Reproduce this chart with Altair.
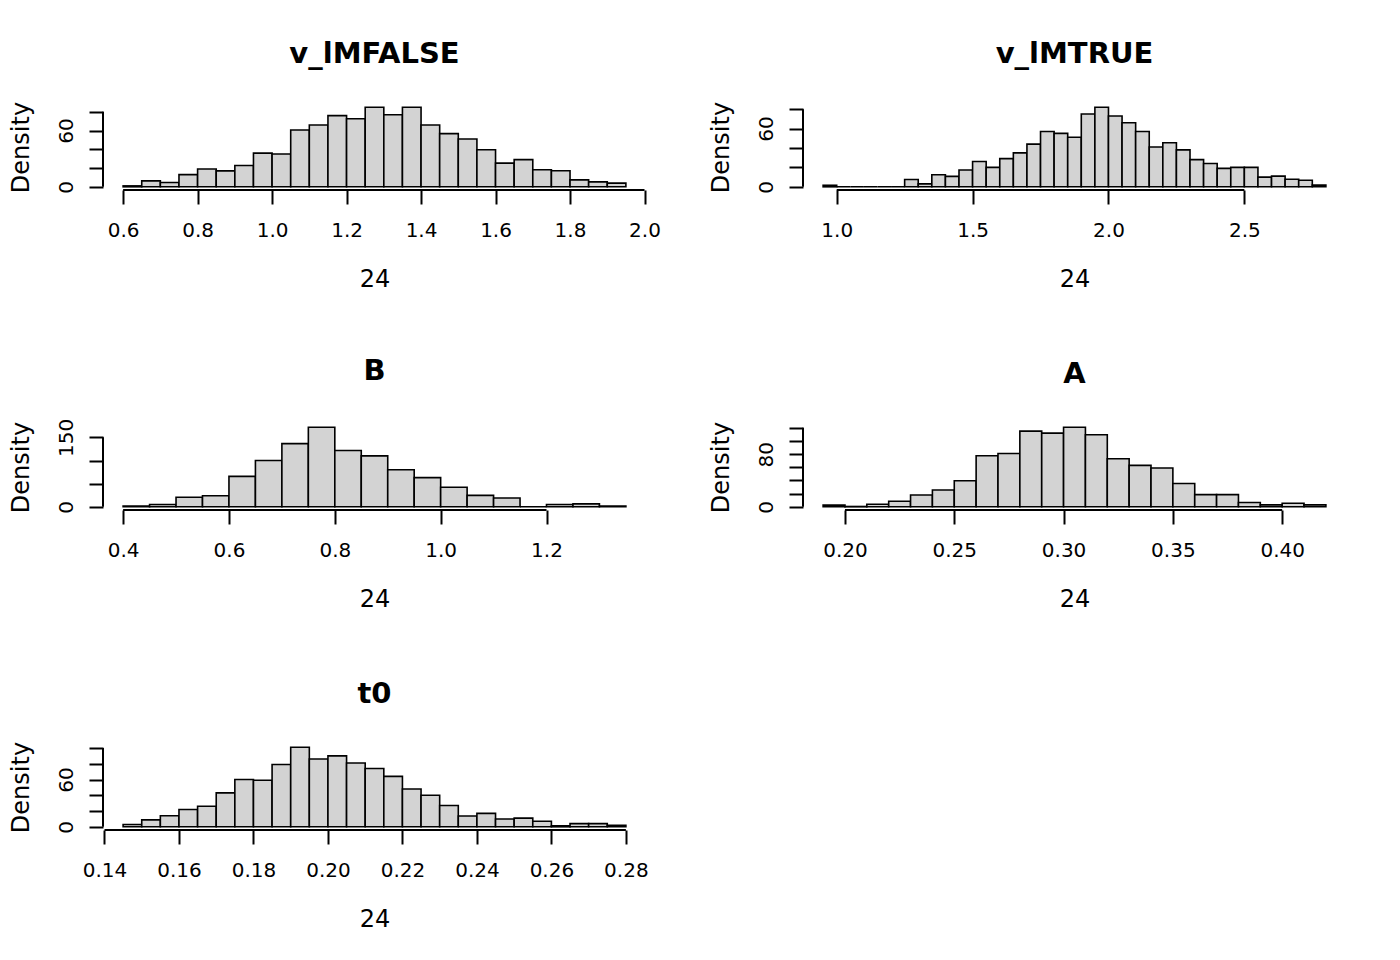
import altair as alt
import pandas as pd

FONT = "DejaVu Sans"
W, H = 543, 86  # plot region of one panel

# v_lMFALSE
vf_start, vf_width = 0.60, 0.05
vf_density = [1, 6.3, 4.6, 13, 19, 17, 22.8, 36, 35, 60.7, 66, 76, 72.6, 85,
              77, 85, 66, 56.8, 51, 39.6, 25.3, 29, 18.2, 17.2, 7.4, 5.3, 3.9]
vf_xticks = [0.6, 0.8, 1.0, 1.2, 1.4, 1.6, 1.8, 2.0]
vf_yticks = [0, 20, 40, 60, 80]
vf_ylabels = [0, 60]

# v_lMTRUE
vt_start, vt_width = 0.95, 0.05
vt_density = [1.6, 0, 0, 0, 0, 0, 7.5, 3, 12.5, 10.8, 17.3, 26, 20, 29, 35, 44,
              57, 55, 51, 75, 82, 73, 66, 57, 41, 45.4, 38, 28, 24, 19, 20, 20,
              10, 11, 7.8, 6.8, 1.7]
vt_xticks = [1.0, 1.5, 2.0, 2.5]
vt_yticks = [0, 20, 40, 60, 80]
vt_ylabels = [0, 60]

# B
b_start, b_width = 0.40, 0.05
b_density = [1.4, 5, 20.5, 24, 65.8, 100, 136.5, 172, 121.6, 110, 80, 63,
             42.4, 24.8, 19, 0, 5, 6.4, 1.4]
b_xticks = [0.4, 0.6, 0.8, 1.0, 1.2]
b_yticks = [0, 50, 100, 150]
b_ylabels = [0, 150]

# A
a_start, a_width = 0.19, 0.01
a_density = [2.5, 0.5, 4, 8.5, 18, 25.5, 39.5, 77.5, 81, 115, 112, 121, 109.5,
             73, 63, 59, 35.5, 18.5, 18.5, 6.5, 3, 5.5, 3]
a_xticks = [0.20, 0.25, 0.30, 0.35, 0.40]
a_yticks = [0, 20, 40, 60, 80, 100, 120]
a_ylabels = [0, 80]

# t0
t_start, t_width = 0.145, 0.005
t_density = [2.9, 8.8, 14, 22, 26, 43, 60, 59, 79, 101, 86, 90, 81, 74, 64,
             48, 40, 27, 13.8, 17, 10, 11, 7, 1.3, 4, 4, 2]
t_xticks = [0.14, 0.16, 0.18, 0.20, 0.22, 0.24, 0.26, 0.28]
t_yticks = [0, 20, 40, 60, 80, 100]
t_ylabels = [0, 60]


def panel(title, start, width, density, xticks, xfmt, yticks, ylabels):
    n = len(density)
    df = pd.DataFrame({
        "lo": [round(start + i * width, 5) for i in range(n)],
        "hi": [round(start + (i + 1) * width, 5) for i in range(n)],
        "density": density,
        "base": [0] * n,
    })
    x_lo, x_hi = start, start + n * width
    ext = 0.04 * (x_hi - x_lo)
    ymax = max(density)
    xs = alt.Scale(domain=[x_lo - ext, x_hi + ext], nice=False, zero=False)
    ys = alt.Scale(domain=[-0.04 * ymax, 1.04 * ymax], nice=False, zero=False)
    shown = " || ".join(f"datum.value == {v}" for v in ylabels)

    xaxis = alt.Axis(
        values=xticks, format=xfmt, title="24", domain=False, grid=False,
        tickSize=14, tickWidth=2, tickColor="black",
        labelFont=FONT, labelFontSize=20, labelColor="black",
        labelBaseline="alphabetic", labelPadding=32, labelFlush=False,
        labelOverlap=False, labelBound=False,
        titleFont=FONT, titleFontSize=24, titleFontWeight="normal",
        titleColor="black", titleX=W / 2, titleY=96,
        titleBaseline="alphabetic", titleAlign="center",
    )
    yaxis = alt.Axis(
        values=yticks, labelExpr=f"({shown}) ? datum.label : ''",
        title="Density", domain=False, grid=False,
        tickSize=14, tickWidth=2, tickColor="black",
        labelFont=FONT, labelFontSize=20, labelColor="black",
        labelAngle=270, labelAlign="center", labelBaseline="alphabetic",
        labelPadding=17, labelFlush=False, labelOverlap=False,
        titleFont=FONT, titleFontSize=24, titleFontWeight="normal",
        titleColor="black", titleAngle=270, titleX=-70, titleY=H / 2,
        titleBaseline="bottom", titleAlign="center",
    )

    bars = alt.Chart(df).mark_rect(
        fill="#d3d3d3", stroke="black", strokeWidth=1.6
    ).encode(
        x=alt.X("lo:Q", scale=xs, axis=xaxis),
        x2="hi:Q",
        y=alt.Y("density:Q", scale=ys, axis=yaxis),
        y2="base:Q",
    )

    xline = alt.Chart(pd.DataFrame({"a": [xticks[0]], "b": [xticks[-1]]})).mark_rule(
        color="black", strokeWidth=2
    ).encode(x=alt.X("a:Q", scale=xs, axis=xaxis), x2="b:Q", y=alt.value(H))

    yline = alt.Chart(pd.DataFrame({"a": [yticks[0]], "b": [yticks[-1]]})).mark_rule(
        color="black", strokeWidth=2
    ).encode(y=alt.Y("a:Q", scale=ys, axis=yaxis), y2="b:Q", x=alt.value(0))

    return alt.layer(bars, xline, yline).properties(
        width=W, height=H,
        title=alt.TitleParams(
            text=title, font=FONT, fontSize=29, fontWeight="bold",
            color="black", anchor="middle", frame="group",
            baseline="alphabetic", offset=9,
        ),
    )


panels = [
    panel("v_lMFALSE", vf_start, vf_width, vf_density, vf_xticks, ".1f", vf_yticks, vf_ylabels),
    panel("v_lMTRUE", vt_start, vt_width, vt_density, vt_xticks, ".1f", vt_yticks, vt_ylabels),
    panel("B", b_start, b_width, b_density, b_xticks, ".1f", b_yticks, b_ylabels),
    panel("A", a_start, a_width, a_density, a_xticks, ".2f", a_yticks, a_ylabels),
    panel("t0", t_start, t_width, t_density, t_xticks, ".2f", t_yticks, t_ylabels),
]

chart = alt.concat(
    *panels, columns=2, spacing={"row": 234, "column": 157}, bounds="flush"
).properties(
    padding={"left": 0, "top": 32, "right": 10, "bottom": 10},
    background="white",
).configure_view(stroke=None)

chart.save("out.html", embed_options={"renderer": "svg", "actions": False})
